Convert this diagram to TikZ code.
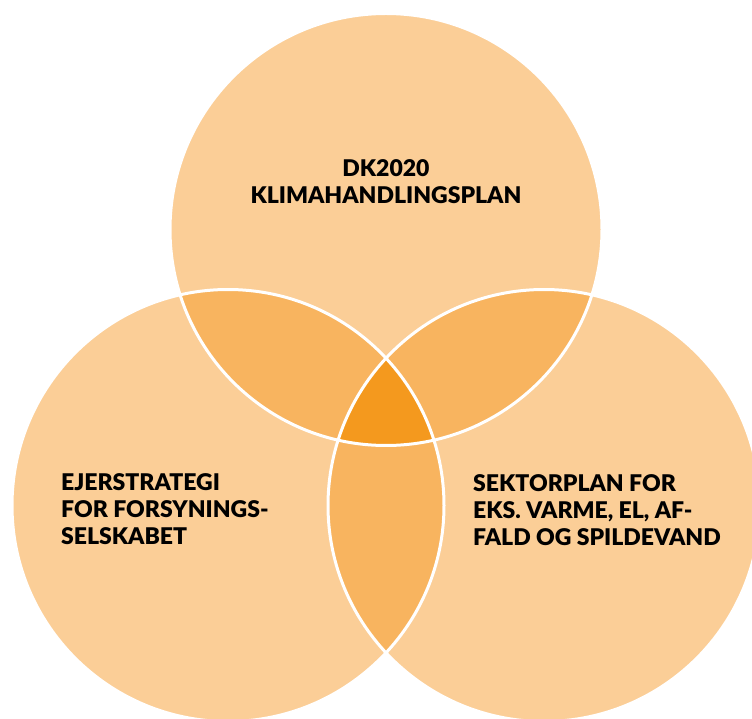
\documentclass[tikz,border=0pt]{standalone}
\usepackage{fontspec}
\setmainfont{Lato}[BoldFont={Lato Black}]
\definecolor{lys}{HTML}{FBCE97}
\definecolor{mellem}{HTML}{F8B45F}
\definecolor{moerk}{HTML}{F4991E}

\begin{document}
\begin{tikzpicture}[x=1pt, y=1pt, tekst/.style = {inner sep=0pt, font=\bfseries\fontsize{23}{27}\selectfont}, kant/.style = {draw=white, line width=3pt}]
		\useasboundingbox (0,0) rectangle (752,718);
		\clip (0,0) rectangle (752,718);
		\coordinate (top) at (386,488.5);
		\coordinate (venstre) at (228,212.5);
		\coordinate (hoejre) at (544,212.5);
		
		\fill[lys] (top) circle (216pt);
		\fill[lys] (venstre) circle (216pt);
		\fill[lys] (hoejre) circle (216pt);
		
		\begin{scope}
			\clip (top) circle (216pt);
			\fill[mellem] (venstre) circle (216pt);
			\fill[mellem] (hoejre) circle (216pt);
		\end{scope}
		\begin{scope}
			\clip (venstre) circle (216pt);
			\fill[mellem] (hoejre) circle (216pt);
		\end{scope}
		\begin{scope}
			\clip (top) circle (216pt);
			\clip (venstre) circle (216pt);
			\fill[moerk] (hoejre) circle (216pt);
		\end{scope}
		
		\draw[kant] (top) circle (216pt);
		\draw[kant] (venstre) circle (216pt);
		\draw[kant] (hoejre) circle (216pt);
		
		\node[tekst, align=center, anchor=north] (dk) at (386,559) {DK2020\\KLIMAHANDLINGSPLAN};
		\node[tekst, align=left, anchor=north west] (ejer) at (61,245) {EJERSTRATEGI\\FOR FORSYNINGS-\\SELSKABET};
		\node[tekst, align=left, anchor=north west] (sektor) at (473,244) {SEKTORPLAN FOR\\EKS. VARME, EL, AF-\\FALD OG SPILDEVAND};
	\end{tikzpicture}
\end{document}
